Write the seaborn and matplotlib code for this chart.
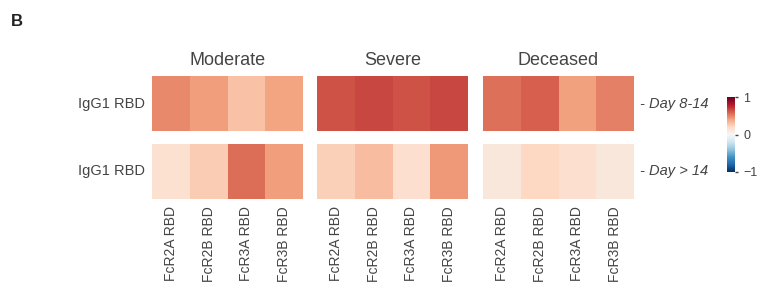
import numpy as np
import pandas as pd
import matplotlib
matplotlib.use("Agg")
import matplotlib.pyplot as plt
import seaborn as sns

groups = ["Moderate", "Severe", "Deceased"]
receptors = ["FcR2A RBD", "FcR2B RBD", "FcR3A RBD", "FcR3B RBD"]
row_label = "IgG1 RBD"
periods = ["- Day 8-14", "- Day > 14"]

# correlation values, one list per group, first early then late
moderate_early = [0.48, 0.42, 0.29, 0.40]
moderate_late = [0.16, 0.25, 0.56, 0.42]
severe_early = [0.64, 0.67, 0.64, 0.67]
severe_late = [0.24, 0.31, 0.17, 0.43]
deceased_early = [0.55, 0.60, 0.41, 0.50]
deceased_late = [0.11, 0.21, 0.17, 0.11]

values = {
    "Moderate": [moderate_early, moderate_late],
    "Severe": [severe_early, severe_late],
    "Deceased": [deceased_early, deceased_late],
}

sns.set_theme(style="white")
plt.rcParams["font.family"] = ["Liberation Sans", "DejaVu Sans"]
txt = "#444444"

W, H = 757, 282
fig = plt.figure(figsize=(W / 100, H / 100), dpi=100)

def box(x0, y0, x1, y1):
    return [x0 / W, 1 - y1 / H, (x1 - x0) / W, (y1 - y0) / H]

lefts = [152, 317, 483]
width = 151
rows_y = [(76, 131), (144, 199)]
cax = fig.add_axes(box(727, 97, 735, 172))

for gi, g in enumerate(groups):
    for ri in range(2):
        ax = fig.add_axes(box(lefts[gi], rows_y[ri][0], lefts[gi] + width, rows_y[ri][1]))
        df = pd.DataFrame([values[g][ri]], index=[row_label], columns=receptors)
        first = gi == 0 and ri == 0
        sns.heatmap(df, ax=ax, cmap="RdBu_r", vmin=-1, vmax=1,
                    cbar=first, cbar_ax=cax if first else None,
                    xticklabels=(ri == 1), yticklabels=(gi == 0))
        ax.tick_params(axis="y", length=0, colors=txt, labelsize=10.5, pad=5)
        ax.tick_params(axis="x", length=0, colors=txt, labelsize=10, pad=5)
        if gi == 0:
            ax.set_yticklabels([row_label], rotation=0, color=txt, fontsize=10.5)
        if ri == 1:
            ax.set_xticklabels(receptors, rotation=90, color=txt, fontsize=10)
        ax.set_xlabel("")
        ax.set_ylabel("")
        if ri == 0:
            ax.set_title(g, fontsize=13, color=txt, pad=8)
        if gi == 2:
            ax.text(1.04, 0.5, periods[ri], transform=ax.transAxes,
                    ha="left", va="center", style="italic", fontsize=10.5, color=txt)

cax.set_yticks([-1, 0, 1])
cax.set_yticklabels(["\u22121", "0", "1"])
cax.tick_params(length=2, width=1, labelsize=9, colors=txt, pad=4)
for s in cax.spines.values():
    s.set_visible(False)

fig.text(11 / W, 1 - 21 / H, "B", fontsize=12, fontweight="bold", color="#222222", va="center")

fig.savefig("out.png", dpi=100)
